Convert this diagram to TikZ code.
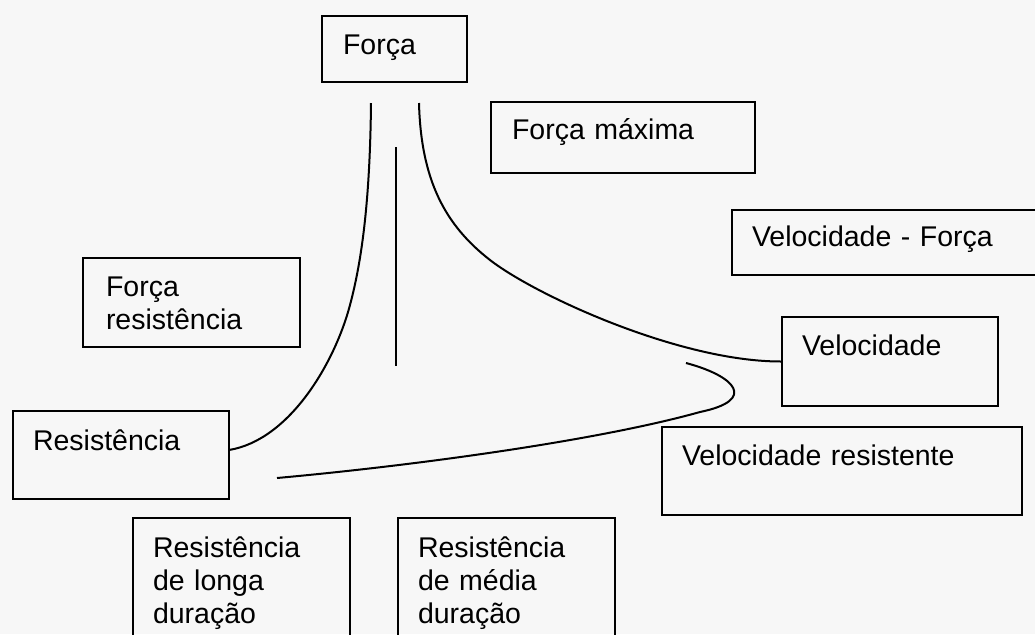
\documentclass[tikz,border=0pt]{standalone}
\usepackage{fontspec}
\setmainfont{Liberation Sans}
\begin{document}
\begin{tikzpicture}[x=0.5pt,y=-0.5pt,
  box/.style={draw, line width=1.3pt, anchor=north west, inner ysep=0pt, outer sep=0pt,
    align=left, font=\fontsize{14.25}{16.5}\selectfont},
  link/.style={line width=1pt}]
\path[use as bounding box, fill=white!97!black] (0,0) rectangle (1035,634);
\clip (0,0) rectangle (1035,634);
\node[box, inner xsep=10.5pt, text width=51.5pt, text height=19pt, text depth=14pt] (forca) at (322,16) {Força};
\node[box, inner xsep=10.5pt, text width=111pt, text height=18.5pt, text depth=17pt] (fmax) at (491,102) {Força máxima};
\node[box, inner xsep=10pt, text width=134pt, text height=18pt, text depth=14.5pt] (velf) at (732,210) {Velocidade - Força};
\node[box, inner xsep=11.5pt, text width=85.5pt, text height=19pt, text depth=25.5pt] (fres) at (83,258) {Força\\resistência};
\node[box, inner xsep=10pt, text width=88pt, text height=19pt, text depth=25.5pt] (vel) at (782,317) {Velocidade};
\node[box, inner xsep=10pt, text width=88pt, text height=19.5pt, text depth=24.5pt] (res) at (13,411) {Resistência};
\node[box, inner xsep=10pt, text width=160pt, text height=19pt, text depth=25pt] (vres) at (662,427) {Velocidade resistente};
\node[box, inner xsep=10pt, text width=88.5pt, text height=19.5pt, text depth=41.5pt] (rlonga) at (133,518) {Resistência\\de longa\\duração};
\node[box, inner xsep=10pt, text width=88.5pt, text height=19.5pt, text depth=41.5pt] (rmedia) at (398,518) {Resistência\\de média\\duração};
\coordinate (cl) at (371,103);
\coordinate (cr) at (419,103);
\coordinate (vt) at (396,147);
\coordinate (vb) at (396,366);
\coordinate (fs) at (686,363);
\coordinate (fe) at (277,478);
\draw[link] (cl) .. controls (370,200) and (362,260) .. (350,305) .. controls (335,362) and (290,440) .. ([yshift=2.5pt]res.east);
\draw[link] (cr) .. controls (421,180) and (445,225) .. (490,260) .. controls (535,295) and (680,362) .. (vel.west);
\draw[link] (vt) -- (vb);
\draw[link] (fs) .. controls (735,376) and (758,400) .. (700,412) .. controls (600,440) and (420,465) .. (fe);
\end{tikzpicture}
\end{document}
